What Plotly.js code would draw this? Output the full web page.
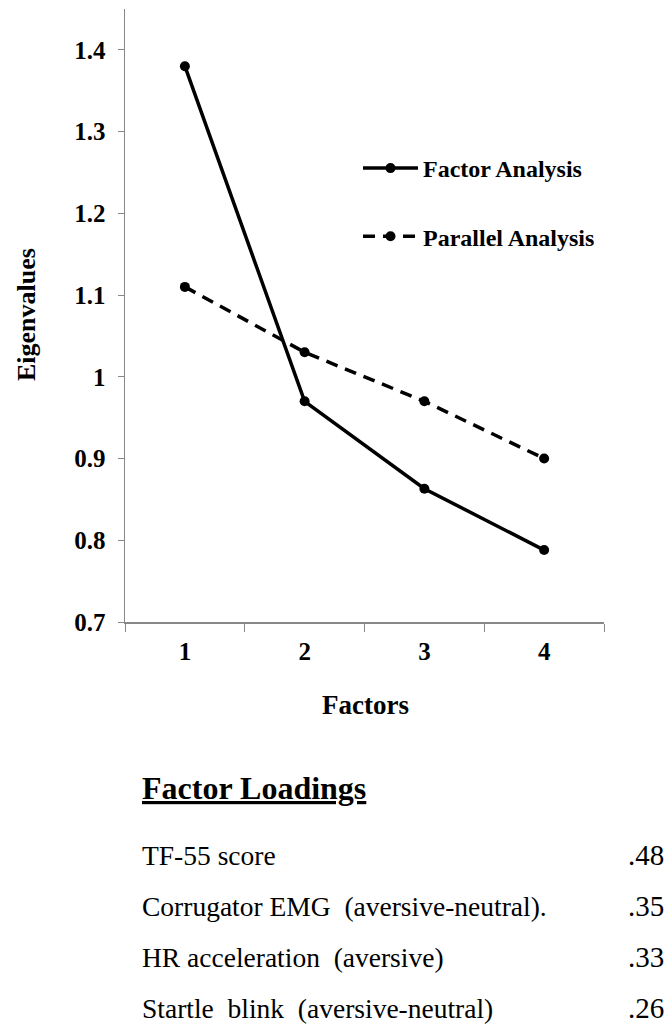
<!DOCTYPE html>
<html>
<head>
<meta charset="utf-8">
<script src="https://cdn.plot.ly/plotly-3.0.1.min.js"></script>
<style>html,body{margin:0;padding:0;background:#fff;}#chart{width:670px;height:1035px;}</style>
</head>
<body>
<div id="chart"></div>
<script>
var factors = ['1', '2', '3', '4'];
var factorAnalysis = [1.38, 0.97, 0.863, 0.788];
var parallelAnalysis = [1.11, 1.03, 0.97, 0.90];
var seriesNames = ['Factor Analysis', 'Parallel Analysis'];
var loadingLabels = ['TF-55 score', 'Corrugator EMG\u00A0 (aversive-neutral).', 'HR acceleration\u00A0 (aversive)', 'Startle\u00A0 blink\u00A0 (aversive-neutral)'];
var loadingValues = ['.48', '.35', '.33', '.26'];
var yTicks = [0.7, 0.8, 0.9, 1.0, 1.1, 1.2, 1.3, 1.4];
var yTickText = ['0.7', '0.8', '0.9', '1', '1.1', '1.2', '1.3', '1.4'];

var W = 670, H = 1035;
function px(x) { return x / W; }
function py(y) { return 1 - y / H; }
var serif = "'Liberation Serif', 'Times New Roman', serif";

var traces = [
  {x: factors, y: factorAnalysis, name: seriesNames[0], type: 'scatter', mode: 'lines+markers',
   line: {color: '#000', width: 3.5}, marker: {color: '#000', size: 10}, legendgroup: 'a'},
  {x: factors, y: parallelAnalysis, name: seriesNames[1], type: 'scatter', mode: 'lines+markers',
   line: {color: '#000', width: 3.5, dash: '12px,8px'}, marker: {color: '#000', size: 10}, legendgroup: 'b'}
];

var annotations = [
  {text: '<b>Eigenvalues</b>', xref: 'paper', yref: 'paper', x: px(26), y: py(315), textangle: -90,
   showarrow: false, font: {family: serif, size: 26, color: '#000'}, xanchor: 'center', yanchor: 'middle'},
  {text: '<b>Factors</b>', xref: 'paper', yref: 'paper', x: px(365), y: py(705),
   showarrow: false, font: {family: serif, size: 27, color: '#000'}, xanchor: 'center', yanchor: 'middle'},
  {text: '<b><u>Factor Loadings</u></b>', xref: 'paper', yref: 'paper', x: px(140), y: py(788),
   showarrow: false, font: {family: serif, size: 32, color: '#000'}, xanchor: 'left', yanchor: 'middle'}
];
var rowY = [855, 906, 957, 1008];
for (var i = 0; i < loadingLabels.length; i++) {
  annotations.push({text: loadingLabels[i], xref: 'paper', yref: 'paper', x: px(140), y: py(rowY[i]),
    showarrow: false, font: {family: serif, size: 27.5, color: '#000'}, xanchor: 'left', yanchor: 'middle'});
  annotations.push({text: loadingValues[i], xref: 'paper', yref: 'paper', x: px(666), y: py(rowY[i]),
    showarrow: false, font: {family: serif, size: 29, color: '#000'}, xanchor: 'right', yanchor: 'middle'});
}

var layout = {
  width: W, height: H,
  margin: {l: 0, r: 0, t: 0, b: 0},
  paper_bgcolor: '#fff', plot_bgcolor: '#fff',
  font: {family: serif},
  showlegend: true,
  legend: {x: px(358), y: py(146), xanchor: 'left', yanchor: 'top', bgcolor: 'rgba(0,0,0,0)',
    font: {family: serif, size: 24, color: '#000', weight: 'bold'}, itemwidth: 55,
    tracegroupgap: 34, traceorder: 'grouped'},
  xaxis: {domain: [px(125), px(604)], type: 'category', range: [-0.5, 3.5], tickson: 'boundaries', ticks: 'outside', ticklen: 8,
    tickcolor: '#888', showline: true, linecolor: '#888', linewidth: 1.5, showgrid: false, zeroline: false,
    tickfont: {family: serif, size: 25, color: '#000', weight: 'bold'}, ticklabelstandoff: 6, fixedrange: true},
  yaxis: {domain: [py(622), py(9)], range: [0.7, 1.45], tickvals: yTicks, ticktext: yTickText, ticks: 'outside', ticklen: 6,
    tickcolor: '#888', showline: true, linecolor: '#888', linewidth: 1.5, showgrid: false, zeroline: false,
    tickfont: {family: serif, size: 25, color: '#000', weight: 'bold'}, ticklabelstandoff: 7, fixedrange: true},
  annotations: annotations
};

Plotly.newPlot('chart', traces, layout, {displayModeBar: false, staticPlot: true});
</script>
</body>
</html>
